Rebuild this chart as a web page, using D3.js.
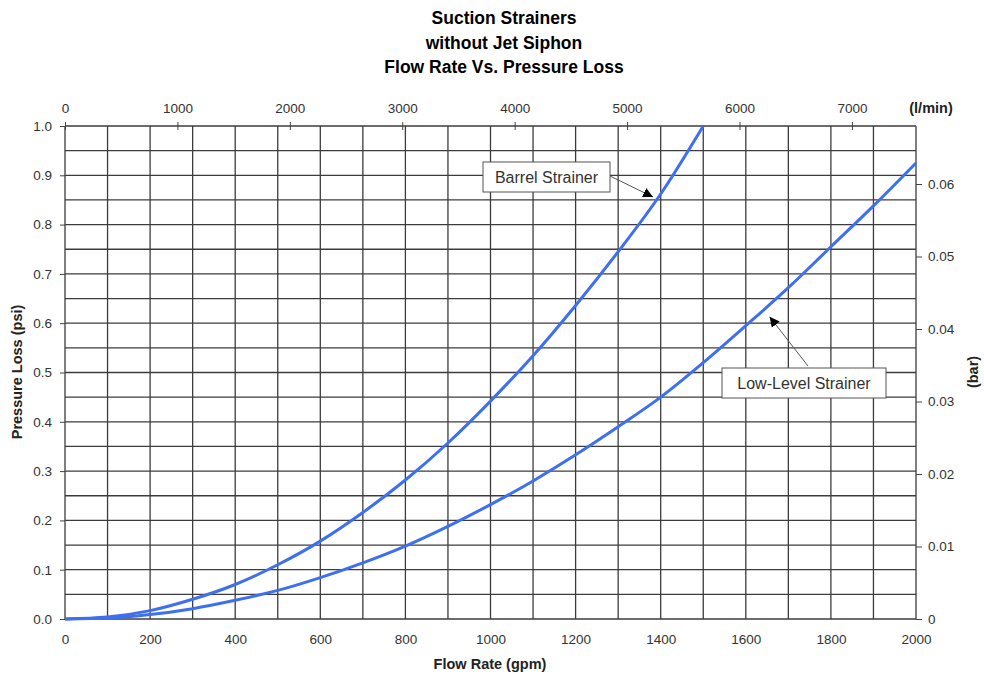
<!DOCTYPE html>
<html><head><meta charset="utf-8">
<script src="https://cdn.jsdelivr.net/npm/d3@7"></script>
<style>body{margin:0;background:#fff}svg{display:block}text{font-family:"Liberation Sans",Arial,sans-serif}</style>
</head><body>
<svg id="c" width="984" height="677"></svg>
<script>
const titleLines = ["Suction Strainers", "without Jet Siphon", "Flow Rate Vs. Pressure Loss"];
const flowGpm = [0, 100, 200, 300, 400, 500, 600, 700, 800, 900, 1000, 1100, 1200, 1300, 1400, 1500, 1600, 1700, 1800, 1900, 2000];
const barrelPsi = [0, 0.004, 0.017, 0.040, 0.070, 0.110, 0.158, 0.216, 0.282, 0.357, 0.442, 0.534, 0.636, 0.745, 0.862, 1.0];
const lowLevelPsi = [0, 0.002, 0.009, 0.021, 0.038, 0.058, 0.084, 0.114, 0.148, 0.188, 0.232, 0.280, 0.333, 0.390, 0.450, 0.520, 0.595, 0.672, 0.755, 0.838, 0.925];
const bottomTicks = [0, 200, 400, 600, 800, 1000, 1200, 1400, 1600, 1800, 2000];
const leftTicks = [0, 0.1, 0.2, 0.3, 0.4, 0.5, 0.6, 0.7, 0.8, 0.9, 1.0];
const rightTicks = [0, 0.01, 0.02, 0.03, 0.04, 0.05, 0.06];
const topTicks = [0, 1000, 2000, 3000, 4000, 5000, 6000, 7000];
const labels = ["Barrel Strainer", "Low-Level Strainer"];

const svg = d3.select("#c");
const L = 65, R = 916, T = 126, B = 619;
const x = d3.scaleLinear().domain([0, 2000]).range([L, R]);
const y = d3.scaleLinear().domain([0, 1]).range([B, T]);
const xt = d3.scaleLinear().domain([0, 2000 * 3.785]).range([L, R]);
const yb = d3.scaleLinear().domain([0, 0.068]).range([B, T]);

// title
svg.append("g").selectAll("text").data(titleLines).join("text")
  .attr("x", 504).attr("y", (d, i) => 24 + i * 24.5)
  .attr("text-anchor", "middle").attr("font-size", 17.5).attr("font-weight", "bold").attr("fill", "#000")
  .text(d => d);

// grid
const g = svg.append("g");
g.selectAll("line.v").data(d3.range(0, 2001, 100)).join("line")
  .attr("x1", d => x(d)).attr("x2", d => x(d)).attr("y1", T).attr("y2", B)
  .attr("stroke", "#3c3c3c").attr("stroke-width", 1.3);
g.selectAll("line.h").data(d3.range(0, 21).map(i => i * 0.05)).join("line")
  .attr("x1", L).attr("x2", R).attr("y1", d => y(d)).attr("y2", d => y(d))
  .attr("stroke", "#3c3c3c").attr("stroke-width", 1.3);

// axes
const fs = 13.5, tc = "#333";
const ax = svg.append("g").attr("transform", `translate(0,${B})`)
  .call(d3.axisBottom(x).tickValues(bottomTicks).tickSize(0).tickPadding(15).tickFormat(d3.format("d")));
const ay = svg.append("g").attr("transform", `translate(${L},0)`)
  .call(d3.axisLeft(y).tickValues(leftTicks).tickSize(5).tickPadding(8).tickFormat(d3.format(".1f")));
const ar = svg.append("g").attr("transform", `translate(${R},0)`)
  .call(d3.axisRight(yb).tickValues(rightTicks).tickSize(6).tickPadding(6).tickFormat(d => d === 0 ? "0" : d3.format(".2f")(d)));
const at = svg.append("g").attr("transform", `translate(0,${T})`)
  .call(d3.axisTop(xt).tickValues(topTicks).tickSize(4).tickPadding(9).tickFormat(d3.format("d")));
at.selectAll(".tick line").attr("y2", 4).attr("y1", -4);
[ax, ay, ar, at].forEach(a => {
  a.select(".domain").remove();
  a.selectAll(".tick line").attr("stroke", "#444");
  a.selectAll("text").attr("font-size", fs).attr("fill", tc).attr("font-family", "Liberation Sans, Arial, sans-serif");
});

// axis titles
const afs = 14.5;
svg.append("text").attr("x", 490).attr("y", 669).attr("text-anchor", "middle")
  .attr("font-size", afs).attr("font-weight", "bold").attr("fill", "#222").text("Flow Rate (gpm)");
svg.append("text").attr("transform", "translate(22,372) rotate(-90)").attr("text-anchor", "middle")
  .attr("font-size", afs).attr("font-weight", "bold").attr("fill", "#222").text("Pressure Loss (psi)");
svg.append("text").attr("transform", "translate(978,372) rotate(-90)").attr("text-anchor", "middle")
  .attr("font-size", afs).attr("font-weight", "bold").attr("fill", "#222").text("(bar)");
svg.append("text").attr("x", 931).attr("y", 113).attr("text-anchor", "middle")
  .attr("font-size", afs).attr("font-weight", "bold").attr("fill", "#222").text("(l/min)");

// curves
const line = d3.line().x(d => x(d[0])).y(d => y(d[1])).curve(d3.curveMonotoneX);
const series = [barrelPsi.map((v, i) => [flowGpm[i], v]), lowLevelPsi.map((v, i) => [flowGpm[i], v])];
svg.append("g").selectAll("path").data(series).join("path")
  .attr("d", line).attr("fill", "none").attr("stroke", "#3d6ff0").attr("stroke-width", 3);

// annotations
const defs = svg.append("defs");
defs.append("marker").attr("id", "ah").attr("viewBox", "0 0 10 10").attr("refX", 10).attr("refY", 5)
  .attr("markerWidth", 10).attr("markerHeight", 10).attr("markerUnits", "userSpaceOnUse").attr("orient", "auto")
  .append("path").attr("d", "M0,0L10,5L0,10z").attr("fill", "#000");

function callout(text, bx, by, bw, bh, fx, fy, dataX, dataY) {
  svg.append("line").attr("x1", fx).attr("y1", fy).attr("x2", x(dataX)).attr("y2", y(dataY))
    .attr("stroke", "#555").attr("stroke-width", 1).attr("marker-end", "url(#ah)");
  svg.append("rect").attr("x", bx).attr("y", by).attr("width", bw).attr("height", bh)
    .attr("fill", "#fff").attr("stroke", "#555").attr("stroke-width", 1);
  svg.append("text").attr("x", bx + bw / 2).attr("y", by + bh / 2 + 5.5).attr("text-anchor", "middle")
    .attr("font-size", 16).attr("fill", "#333").text(text);
}
callout(labels[0], 483, 162, 127, 30, 610, 176, 1382, 0.856);
callout(labels[1], 722, 368, 164, 30, 808, 366, 1656, 0.613);
</script>
</body></html>
